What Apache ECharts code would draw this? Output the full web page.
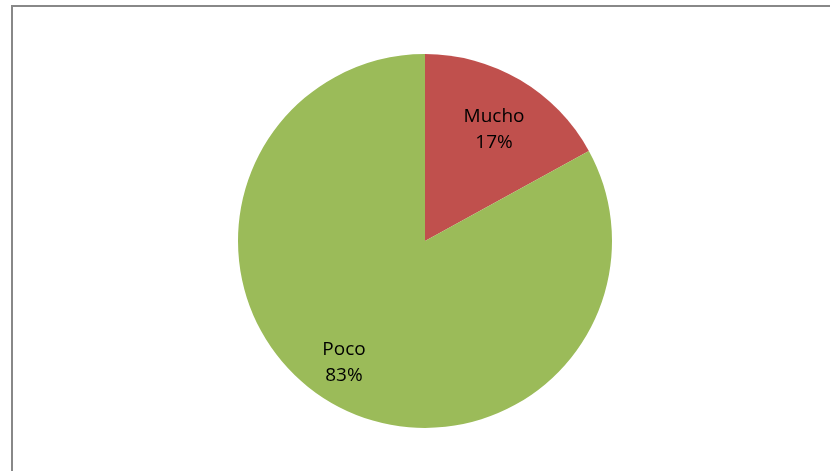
<!DOCTYPE html>
<html>
<head>
<meta charset="utf-8">
<script src="https://cdn.jsdelivr.net/npm/echarts@6/dist/echarts.min.js"></script>
<style>
html,body{margin:0;padding:0;background:#fff;}
#chart{width:830px;height:471px;}
</style>
</head>
<body>
<div id="chart"></div>
<script>
const categories = ['Mucho', 'Poco'];
const values = [17, 83];
const colors = ['#C0504D', '#9BBB59'];

const data = categories.map((c, i) => ({ name: c, value: values[i], itemStyle: { color: colors[i] } }));
const labelData = categories.map((c, i) => ({ name: c, value: values[i] }));
const labelShift = [[-3, 10], [-9, 0]];

const chart = echarts.init(document.getElementById('chart'));
chart.setOption({
  animation: false,
  backgroundColor: '#fff',
  graphic: [{
    type: 'rect',
    shape: { x: 12, y: 6, width: 900, height: 600 },
    style: { fill: 'none', stroke: '#888888', lineWidth: 2 },
    silent: true
  }],
  series: [
    {
      type: 'pie',
      center: [425, 241],
      radius: 187,
      startAngle: 90,
      clockwise: true,
      silent: true,
      label: { show: false },
      labelLine: { show: false },
      itemStyle: { borderWidth: 0 },
      data: data
    },
    {
      type: 'pie',
      center: [425, 241],
      radius: [90, 187],
      startAngle: 90,
      clockwise: true,
      silent: true,
      itemStyle: { color: 'rgba(0,0,0,0)', borderWidth: 0 },
      label: {
        show: true,
        position: 'inside',
        formatter: p => p.name + '\n' + Math.round(p.percent) + '%',
        color: '#000',
        fontFamily: 'Open Sans',
        fontSize: 19,
        lineHeight: 26,
        align: 'center'
      },
      labelLayout: p => ({ dx: labelShift[p.dataIndex][0], dy: labelShift[p.dataIndex][1] }),
      labelLine: { show: false },
      data: labelData
    }
  ]
});
</script>
</body>
</html>
